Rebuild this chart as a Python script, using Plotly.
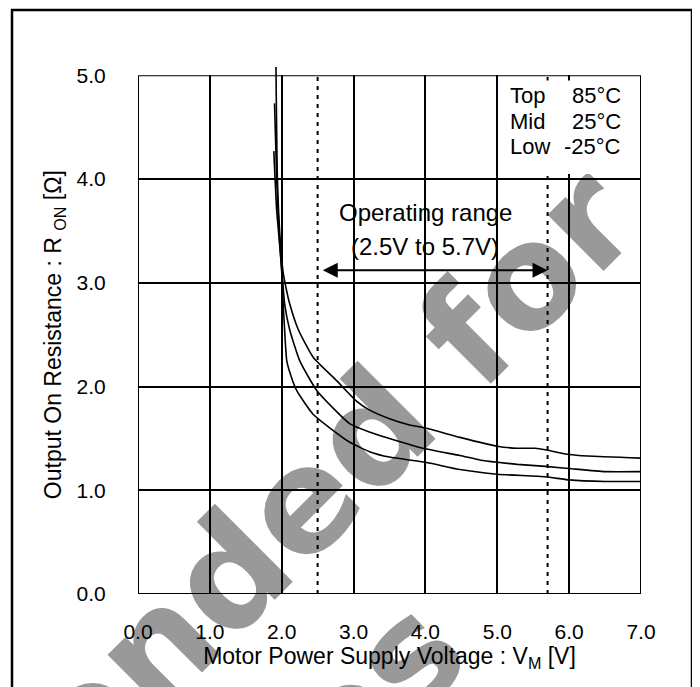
import plotly.graph_objects as go

# ---------------- data ----------------
top_x = [1.92, 1.94, 1.98, 2.02, 2.06, 2.11, 2.23, 2.44, 2.76, 3.04, 3.23, 3.50, 3.78, 4.00, 4.48, 5.00, 5.28, 5.53, 5.67, 6.00, 6.26, 7.00]
top_y = [5.08, 4.00, 3.40, 3.10, 2.95, 2.80, 2.55, 2.28, 2.06, 1.86, 1.77, 1.69, 1.63, 1.60, 1.51, 1.425, 1.405, 1.405, 1.39, 1.345, 1.33, 1.31]

mid_x = [1.90, 1.93, 1.97, 2.01, 2.04, 2.11, 2.25, 2.49, 2.95, 3.23, 3.50, 4.00, 4.48, 4.77, 5.00, 5.28, 5.67, 6.00, 6.50, 7.00]
mid_y = [4.73, 4.00, 3.40, 3.05, 2.80, 2.55, 2.25, 1.96, 1.64, 1.56, 1.50, 1.40, 1.335, 1.29, 1.27, 1.25, 1.23, 1.21, 1.18, 1.18]

low_x = [1.89, 1.93, 1.98, 2.01, 2.02, 2.04, 2.07, 2.13, 2.21, 2.44, 2.93, 3.23, 3.50, 4.00, 4.48, 5.00, 5.67, 6.00, 6.50, 7.00]
low_y = [4.27, 3.70, 3.30, 3.00, 2.80, 2.55, 2.25, 2.10, 1.96, 1.73, 1.47, 1.37, 1.32, 1.27, 1.20, 1.155, 1.13, 1.10, 1.085, 1.085]

x_ticks = [0, 1, 2, 3, 4, 5, 6, 7]
x_tick_labels = ["0.0", "1.0", "2.0", "3.0", "4.0", "5.0", "6.0", "7.0"]
y_ticks = [0, 1, 2, 3, 4, 5]
y_tick_labels = ["0.0", "1.0", "2.0", "3.0", "4.0", "5.0"]

range_limits = [2.5, 5.7]
arrow_y = 3.12
legend_names = ["Top", "Mid", "Low"]
legend_temps = ["85°C", "25°C", "-25°C"]
watermark_lines = ["Recommended for", "Samples"]

FONT = "Liberation Sans"

# ---------------- layout geometry ----------------
# page body has an 8px margin, so the figure is 8px smaller
W, H = 692, 679
ML, MR, MB = 130, 59, 93
PX_PER_UNIT_Y = 103.8
plot_h = 5.1 * PX_PER_UNIT_Y
MT = H - MB - plot_h
main_top = 5.0 / 5.1

# screen pixel -> paper coords (plot area on screen: x 138..641, bottom 594)
def px2paper(sx, sy):
    return (sx - 138) / 503.0, (594 - sy) / plot_h

fig = go.Figure()

for xs, ys in [(top_x, top_y), (mid_x, mid_y), (low_x, low_y)]:
    fig.add_trace(go.Scatter(x=xs, y=ys, mode="lines", xaxis="x2", yaxis="y2",
                             line=dict(color="black", width=1.6, shape="spline", smoothing=0.5),
                             showlegend=False, hoverinfo="skip"))

shapes = []
# watermark (behind everything)
for txt, (cx, cy) in zip(watermark_lines, [(76, 713), (187, 862)]):
    xp, yp = px2paper(cx, cy)
    shapes.append(dict(type="rect", xref="paper", yref="paper", layer="below",
                       x0=xp - 0.005, x1=xp + 0.005, y0=yp - 0.005, y1=yp + 0.005,
                       line=dict(width=0), fillcolor="rgba(0,0,0,0)",
                       label=dict(text="<b>" + txt + "</b>", textposition="middle center",
                                  textangle=-45,
                                  font=dict(family="DejaVu Sans", size=145, color="#999999"))))

# dotted operating range lines
for v in range_limits:
    shapes.append(dict(type="line", xref="x", yref="y", layer="above",
                       x0=v, x1=v, y0=0, y1=5,
                       line=dict(color="black", width=2, dash="4px,5px")))
# legend box
shapes.append(dict(type="rect", xref="x", yref="y", layer="above",
                   x0=5.015, x1=6.99, y0=4.05, y1=4.95,
                   line=dict(width=0), fillcolor="white"))
# plot border
shapes.append(dict(type="rect", xref="x", yref="y", layer="above",
                   x0=0, x1=7, y0=0, y1=5, line=dict(color="black", width=2)))
# outer frame
fx0, fy0 = px2paper(12, 700)
fx1, fy1 = px2paper(692, 9.5)
shapes.append(dict(type="rect", xref="paper", yref="paper", layer="above",
                   x0=fx0, x1=fx1, y0=fy0, y1=fy1, line=dict(color="black", width=2.5)))

annotations = []
annotations.append(dict(xref="x", yref="y", axref="x", ayref="y", x=5.7, y=arrow_y,
                        ax=2.55, ay=arrow_y, text="", showarrow=True, arrowside="end+start",
                        arrowhead=2, arrowsize=1.5, arrowwidth=2, arrowcolor="black"))
annotations.append(dict(xref="x", yref="y", x=4.0, y=3.68, text="Operating range",
                        showarrow=False, font=dict(family=FONT, size=24, color="black")))
annotations.append(dict(xref="x", yref="y", x=4.0, y=3.35, text="(2.5V to 5.7V)",
                        showarrow=False, font=dict(family=FONT, size=24, color="black")))
leg_y = [4.81, 4.56, 4.315]
for name, temp, yy in zip(legend_names, legend_temps, leg_y):
    annotations.append(dict(xref="x", yref="y", x=5.15, y=yy, text=name, xanchor="left",
                            showarrow=False, font=dict(family=FONT, size=22, color="black")))
    annotations.append(dict(xref="x", yref="y", x=6.745, y=yy, text=temp, xanchor="right",
                            showarrow=False, font=dict(family=FONT, size=22, color="black")))

fig.update_layout(
    width=W, height=H,
    margin=dict(l=ML, r=MR, t=MT, b=MB, pad=0),
    paper_bgcolor="white", plot_bgcolor="rgba(0,0,0,0)",
    showlegend=False,
    shapes=shapes, annotations=annotations,
    xaxis=dict(domain=[0, 1], range=[0, 7], tickvals=x_ticks, ticktext=x_tick_labels,
               showgrid=True, gridcolor="black", gridwidth=1.6, zeroline=False,
               ticks="outside", ticklen=19, tickcolor="rgba(0,0,0,0)",
               tickfont=dict(family=FONT, size=21, color="black"), anchor="y",
               title=dict(text="Motor Power Supply Voltage : V<sub>M</sub> [V]",
                          font=dict(family=FONT, size=23, color="black"), standoff=2)),
    yaxis=dict(domain=[0, main_top], range=[0, 5], tickvals=y_ticks, ticktext=y_tick_labels,
               showgrid=True, gridcolor="black", gridwidth=1.6, zeroline=False,
               ticks="outside", ticklen=27, tickcolor="rgba(0,0,0,0)",
               tickfont=dict(family=FONT, size=21, color="black"), anchor="x",
               title=dict(text="Output On Resistance : R <sub>ON</sub> [Ω]",
                          font=dict(family=FONT, size=23, color="black"), standoff=8)),
    xaxis2=dict(domain=[0, 1], range=[0, 7], visible=False, anchor="y2"),
    yaxis2=dict(domain=[0, 1], range=[0, 5.1], visible=False, anchor="x2"),
)

fig.write_html("out.html")
